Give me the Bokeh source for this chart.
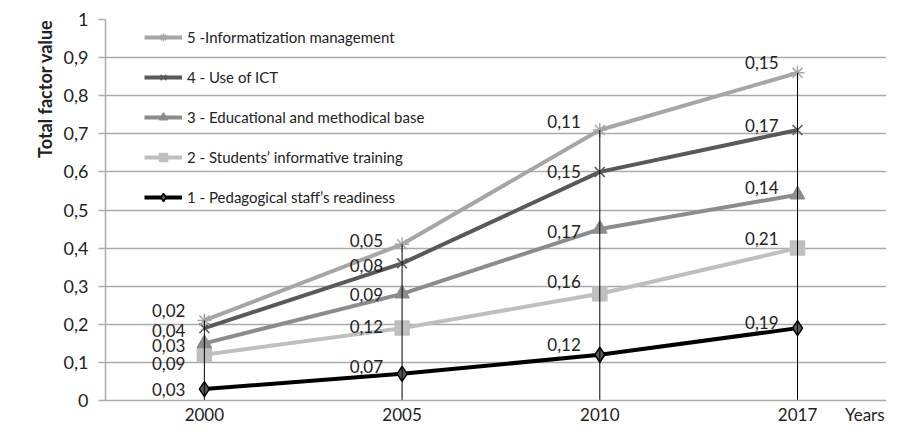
import numpy as np
from bokeh.plotting import figure
from bokeh.models import (ColumnDataSource, LabelSet, Legend, LegendItem, Title,
                          CustomJSTickFormatter, FixedTicker, Range1d)
from bokeh.embed import file_html
from bokeh.resources import INLINE
from bokeh.core.properties import value

# ---- data ----
years = ["2000", "2005", "2010", "2017"]
s1 = [0.03, 0.07, 0.12, 0.19]   # 1 - Pedagogical staff's readiness
s2 = [0.09, 0.12, 0.16, 0.21]   # 2 - Students' informative training
s3 = [0.03, 0.09, 0.17, 0.14]   # 3 - Educational and methodical base
s4 = [0.04, 0.08, 0.15, 0.17]   # 4 - Use of ICT
s5 = [0.02, 0.05, 0.11, 0.15]   # 5 - Informatization management
names = ["1 - Pedagogical staff\u2019s readiness",
         "2 - Students\u2019 informative training",
         "3 - Educational and methodical base",
         "4 - Use of ICT",
         "5 -Informatization management"]
y_ticks = [0, 0.1, 0.2, 0.3, 0.4, 0.5, 0.6, 0.7, 0.8, 0.9, 1.0]
x_title = "Years"

# ---- styles ----
FONT = "Lato"
colors = ["#000000", "#bfbfbf", "#8c8c8c", "#595959", "#a6a6a6"]
markers = ["diamond", "square", "triangle", "x", "asterisk"]
msizes = [15, 14, 14, 14, 14]
mfill = ["#595959", "#bfbfbf", "#8c8c8c", "#595959", "#a6a6a6"]
mline = ["#000000", "#bfbfbf", "#8c8c8c", "#595959", "#a6a6a6"]
# label vertical nudges (px, up)
label_dy = [[0, 7, 10, 6],
            [-9, 2, 12, 10],
            [-2, -1, -2, 7],
            [-2, -2, 0, 4],
            [10, 4, 8, 10]]
x_title_pos = 3.84   # slot position of the "Years" caption on the tick row

series = [s1, s2, s3, s4, s5]
cum = np.cumsum(np.array(series), axis=0)
xs = np.arange(len(years)) + 0.5   # category slots

p = figure(width=886, height=427, output_backend="svg", toolbar_location=None,
           x_range=Range1d(0, 3.95), y_range=Range1d(0, 1),
           min_border_left=105, min_border_right=0, min_border_top=19, min_border_bottom=24)
p.outline_line_color = None
p.background_fill_color = "white"
p.border_fill_color = "white"

grid_col = "#ababab"
p.xgrid.grid_line_color = None
p.ygrid.grid_line_color = grid_col
p.ygrid.grid_line_width = 1.5
p.yaxis.ticker = FixedTicker(ticks=y_ticks)
p.yaxis.formatter = CustomJSTickFormatter(code="""
    if (Math.abs(tick - Math.round(tick)) < 1e-9) { return tick.toFixed(0); }
    return tick.toFixed(1).replace('.', ',');
""")
p.xaxis.ticker = FixedTicker(ticks=list(xs) + [x_title_pos])
overrides = {float(x): y for x, y in zip(xs, years)}
overrides[x_title_pos] = x_title
p.xaxis.major_label_overrides = overrides
for ax in (p.xaxis, p.yaxis):
    ax.axis_line_color = grid_col
    ax.axis_line_width = 1.5
    ax.major_label_text_font = FONT
    ax.major_label_text_color = "#222222"
    ax.minor_tick_line_color = None
p.yaxis.major_label_text_font_size = "18px"
p.xaxis.major_label_text_font_size = "17px"
p.yaxis.major_tick_line_color = grid_col
p.yaxis.major_tick_line_width = 1.5
p.yaxis.major_tick_out = 7
p.yaxis.major_tick_in = 0
p.yaxis.major_label_standoff = 10
p.xaxis.major_tick_line_color = None
p.xaxis.major_tick_out = 0
p.xaxis.major_tick_in = 0
p.xaxis.major_label_standoff = 3

items = []
for i in range(5):
    lr = p.line(x=xs, y=cum[i], line_width=4, line_color=colors[i])
    sr = p.scatter(x=xs, y=cum[i], marker=markers[i], size=msizes[i],
                   fill_color=mfill[i], line_color=mline[i], line_width=1.5)
    items.append(LegendItem(label=names[i], renderers=[lr, sr]))

# drop lines (on top)
p.segment(x0=xs, y0=[0] * len(xs), x1=xs, y1=cum[-1], line_color="#000000", line_width=1)

# data labels
lx, ly, lt, ldy = [], [], [], []
for i in range(5):
    for j in range(len(years)):
        lx.append(xs[j])
        ly.append(cum[i][j])
        lt.append(f"{series[i][j]:.2f}".replace(".", ","))
        ldy.append(label_dy[i][j])
src = ColumnDataSource(dict(x=lx, y=ly, t=lt, dy=ldy))
labels = LabelSet(x="x", y="y", text="t", source=src, x_offset=-19, y_offset="dy",
                  text_align="right", text_baseline="middle",
                  text_font=value(FONT), text_font_size="17px", text_color="#222222")
p.add_layout(labels)

legend = Legend(items=list(reversed(items)), location=(39, 193),
                glyph_width=38, glyph_height=20, label_height=20, spacing=20,
                padding=5, margin=0, border_line_color=None, background_fill_alpha=0,
                label_text_font=FONT, label_text_font_size="15px", label_text_color="#222222",
                label_standoff=5)
p.add_layout(legend)

ytitle = Title(text="Total factor value", align="right", text_font=FONT,
               text_font_size="18px", text_font_style="bold", text_color="#222222")
p.add_layout(ytitle, "left")

open("out.html", "w").write(file_html(p, INLINE))
